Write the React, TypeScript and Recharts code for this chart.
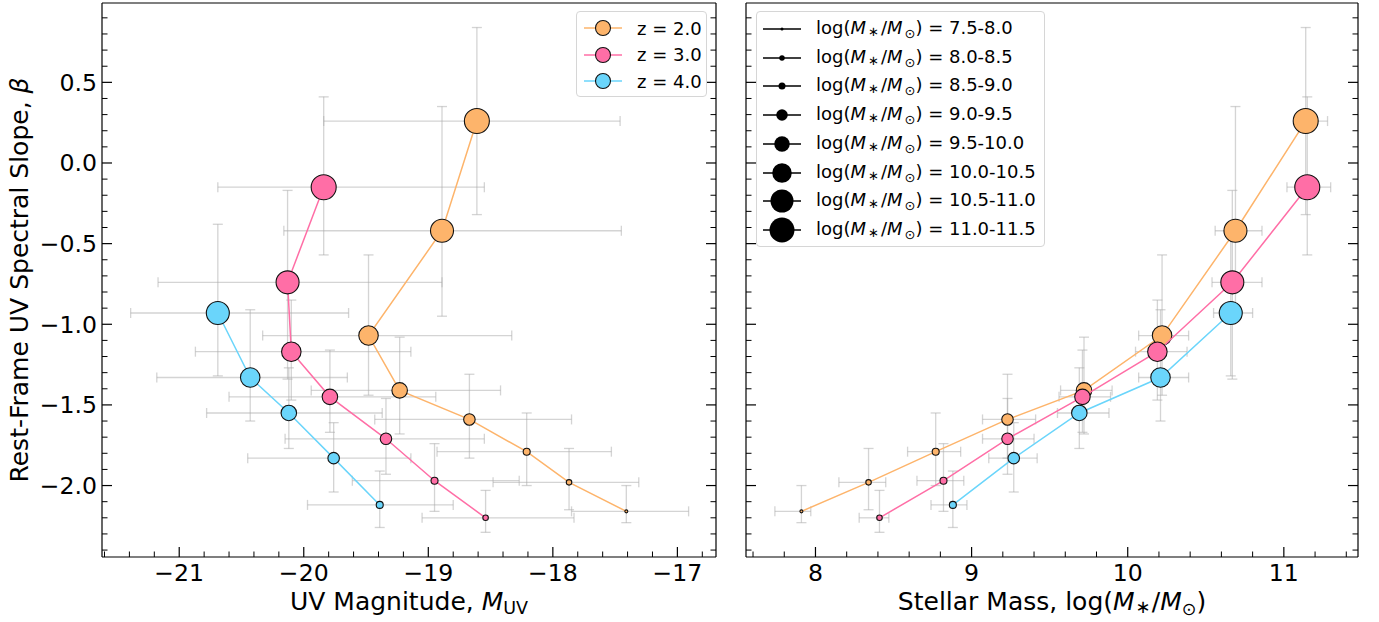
import React from 'react';
import { ScatterChart, Scatter, XAxis, YAxis, ErrorBar, Label, Legend } from 'recharts';

// ---- data ----
const Z_LABELS = ['z = 2.0', 'z = 3.0', 'z = 4.0'];
const MASS_BINS = ['7.5-8.0', '8.0-8.5', '8.5-9.0', '9.0-9.5', '9.5-10.0', '10.0-10.5', '10.5-11.0', '11.0-11.5'];

// z = 2.0
const Z2_BIN = [0, 1, 2, 3, 4, 5, 6, 7];
const Z2_MUV = [-17.41, -17.87, -18.21, -18.67, -19.23, -19.48, -18.89, -18.61];
const Z2_MASS = [7.91, 8.34, 8.77, 9.23, 9.72, 10.22, 10.69, 11.14];
const Z2_BETA = [-2.16, -1.98, -1.79, -1.59, -1.41, -1.07, -0.42, 0.26];
const Z2_MUV_ERR = [[0.44, 0.5], [0.61, 0.56], [0.72, 0.68], [0.76, 0.82], [0.71, 0.81], [0.85, 1.15], [1.27, 1.44], [1.23, 1.15]];
const Z2_MASS_ERR = [[0.17, 0.06], [0.19, 0.11], [0.18, 0.16], [0.16, 0.18], [0.15, 0.18], [0.15, 0.17], [0.13, 0.17], [0.07, 0.14]];
const Z2_BETA_ERR = [[0.07, 0.16], [0.17, 0.21], [0.21, 0.24], [0.24, 0.28], [0.27, 0.33], [0.37, 0.5], [0.53, 0.77], [0.58, 0.58]];

// z = 3.0
const Z3_BIN = [1, 2, 3, 4, 5, 6, 7];
const Z3_MUV = [-18.54, -18.95, -19.34, -19.79, -20.1, -20.13, -19.84];
const Z3_MASS = [8.41, 8.82, 9.23, 9.71, 10.19, 10.67, 11.15];
const Z3_BETA = [-2.2, -1.97, -1.71, -1.45, -1.17, -0.74, -0.15];
const Z3_MUV_ERR = [[0.51, 0.71], [0.66, 0.68], [0.81, 0.79], [0.81, 0.85], [0.77, 0.96], [1.04, 1.24], [0.85, 1.29]];
const Z3_MASS_ERR = [[0.13, 0.06], [0.17, 0.13], [0.16, 0.17], [0.15, 0.18], [0.14, 0.19], [0.13, 0.19], [0.13, 0.15]];
const Z3_BETA_ERR = [[0.09, 0.17], [0.19, 0.23], [0.22, 0.25], [0.22, 0.29], [0.3, 0.32], [0.6, 0.57], [0.42, 0.56]];

// z = 4.0
const Z4_BIN = [2, 3, 4, 5, 6];
const Z4_MUV = [-19.39, -19.76, -20.12, -20.43, -20.69];
const Z4_MASS = [8.88, 9.27, 9.69, 10.21, 10.66];
const Z4_BETA = [-2.12, -1.83, -1.55, -1.33, -0.93];
const Z4_MUV_ERR = [[0.58, 0.59], [0.69, 0.62], [0.66, 0.75], [0.75, 0.78], [0.7, 1.05]];
const Z4_MASS_ERR = [[0.14, 0.09], [0.16, 0.15], [0.14, 0.19], [0.14, 0.18], [0.11, 0.14]];
const Z4_BETA_ERR = [[0.14, 0.21], [0.21, 0.22], [0.22, 0.28], [0.27, 0.42], [0.39, 0.55]];

// ---- axes ----
const MUV_MAJOR = [-21, -20, -19, -18, -17];
const MASS_MAJOR = [8, 9, 10, 11];
const BETA_MAJOR = [-2.0, -1.5, -1.0, -0.5, 0.0, 0.5];
const MUV_DOMAIN = [-21.62, -16.69];
const MASS_DOMAIN = [7.555, 11.475];
const BETA_DOMAIN = [-2.443, 0.992];

const steps = (from: number, to: number, step: number) => {
  const out: number[] = [];
  for (let v = from; v <= to + 1e-9; v += step) out.push(Math.round(v * 1e6) / 1e6);
  return out;
};
const MUV_TICKS = steps(-21.6, -16.8, 0.2);
const MASS_TICKS = steps(7.6, 11.4, 0.2);
const BETA_TICKS = steps(-2.4, 0.9, 0.1);

// ---- styles ----
const FONT = '"DejaVu Sans", sans-serif';
const COLORS = ['#FDB46B', '#FF6EA6', '#6AD5FB'];
const MARKER_R = [1.5, 2.75, 3.5, 5.75, 7.75, 9.75, 11.5, 12.5];
const AXIS_LINE = { stroke: '#000', strokeWidth: 1.2 };
const ERR_STYLE = { stroke: '#aaaaaa', strokeOpacity: 0.5, strokeWidth: 1.3 };
const TICK_FS = 23.6;
const LABEL_FS = 25;

const makeRows = (bin: number[], muv: number[], mass: number[], beta: number[], muvErr: number[][], massErr: number[][], betaErr: number[][]) =>
  bin.map((b, i) => ({ bin: b, muv: muv[i], mass: mass[i], beta: beta[i], muvErr: muvErr[i], massErr: massErr[i], betaErr: betaErr[i] }));

const SERIES = [
  makeRows(Z2_BIN, Z2_MUV, Z2_MASS, Z2_BETA, Z2_MUV_ERR, Z2_MASS_ERR, Z2_BETA_ERR),
  makeRows(Z3_BIN, Z3_MUV, Z3_MASS, Z3_BETA, Z3_MUV_ERR, Z3_MASS_ERR, Z3_BETA_ERR),
  makeRows(Z4_BIN, Z4_MUV, Z4_MASS, Z4_BETA, Z4_MUV_ERR, Z4_MASS_ERR, Z4_BETA_ERR),
];

const isMajor = (v: number, majors: number[]) => majors.some((m) => Math.abs(m - v) < 1e-6);
const fmt = (v: number, digits: number) => {
  const s = Math.abs(v).toFixed(digits);
  return v < -1e-9 ? '\u2212' + s : s;
};

// ticks point inwards, like matplotlib direction='in'
const tickFactory = (side: 'bottom' | 'top' | 'left' | 'right', majors: number[], digits: number, showLabel: boolean) =>
  (p: any) => {
    const { x, y, payload } = p;
    const major = isMajor(payload.value, majors);
    const len = major ? 10 : 5.5;
    const sw = major ? 1.2 : 1;
    let line;
    if (side === 'bottom') line = <line x1={x} x2={x} y1={y} y2={y - len} stroke="#000" strokeWidth={sw} />;
    else if (side === 'top') line = <line x1={x} x2={x} y1={y} y2={y + len} stroke="#000" strokeWidth={sw} />;
    else if (side === 'left') line = <line x1={x} x2={x + len} y1={y} y2={y} stroke="#000" strokeWidth={sw} />;
    else line = <line x1={x} x2={x - len} y1={y} y2={y} stroke="#000" strokeWidth={sw} />;
    let text = null;
    if (major && showLabel) {
      if (side === 'bottom')
        text = <text x={x} y={y + 24} textAnchor="middle" fontSize={TICK_FS} fontFamily={FONT} fill="#000">{fmt(payload.value, digits)}</text>;
      else if (side === 'left')
        text = <text x={x - 5} y={y} dy="0.36em" textAnchor="end" fontSize={TICK_FS} fontFamily={FONT} fill="#000">{fmt(payload.value, digits)}</text>;
    }
    return <g>{line}{text}</g>;
  };

const MuvTitle = (p: any) => {
  const vb = p.viewBox;
  return (
    <text x={vb.x + vb.width / 2} y={vb.y + 53} textAnchor="middle" fontSize={LABEL_FS} fontFamily={FONT} fill="#000">
      UV Magnitude, <tspan fontStyle="italic">M</tspan><tspan fontSize={17.5} dy={4}>UV</tspan>
    </text>
  );
};

const MassTitle = (p: any) => {
  const vb = p.viewBox;
  return (
    <text x={vb.x + vb.width / 2} y={vb.y + 53} textAnchor="middle" fontSize={LABEL_FS} fontFamily={FONT} fill="#000">
      Stellar Mass, log(<tspan fontStyle="italic">M</tspan><tspan fontSize={18} dy={3} dx={1}>{'\u2217'}</tspan>
      <tspan dy={-3} dx={1}>/</tspan><tspan fontStyle="italic">M</tspan>
      <tspan fontSize={17.5} dy={5}>{'\u2299'}</tspan><tspan dy={-5}>)</tspan>
    </text>
  );
};

const BetaTitle = (p: any) => {
  const vb = p.viewBox;
  const cy = vb.y + vb.height / 2;
  return (
    <text x={28} y={cy} transform={`rotate(-90, 28, ${cy})`} textAnchor="middle" fontSize={LABEL_FS} fontFamily={FONT} fill="#000">
      Rest-Frame UV Spectral Slope, <tspan fontStyle="italic">{'\u03B2'}</tspan>
    </text>
  );
};

const makeShape = (color: string) => (p: any) =>
  <circle cx={p.cx} cy={p.cy} r={MARKER_R[p.payload.bin]} fill={color} stroke="#111" strokeWidth={1.1} />;

const ZLegend = () => (
  <div style={{ width: 131, height: 86, boxSizing: 'border-box', border: '1px solid #d6d6d6', borderRadius: 4, background: 'rgba(255,255,255,0.85)', fontFamily: FONT, fontSize: 18, position: 'relative' }}>
    {Z_LABELS.map((lab, i) => (
      <div key={lab} style={{ position: 'absolute', left: 0, top: 3 + i * 26.7, height: 26, display: 'flex', alignItems: 'center' }}>
        <svg width={52} height={26} style={{ display: 'block' }}>
          <line x1={7} x2={45} y1={13} y2={13} stroke={COLORS[i]} strokeWidth={1.5} />
          <circle cx={26} cy={13} r={7.5} fill={COLORS[i]} stroke="#111" strokeWidth={1.1} />
        </svg>
        <span style={{ marginLeft: 8, whiteSpace: 'nowrap' }}>{lab}</span>
      </div>
    ))}
  </div>
);

const MassLegend = () => (
  <div style={{ width: 289, height: 236, boxSizing: 'border-box', border: '1px solid #d6d6d6', borderRadius: 4, background: 'rgba(255,255,255,0.85)', fontFamily: FONT, fontSize: 18, position: 'relative' }}>
    {MASS_BINS.map((lab, i) => (
      <div key={lab} style={{ position: 'absolute', left: 0, top: 3 + i * 28.7, height: 28, display: 'flex', alignItems: 'center' }}>
        <svg width={52} height={28} style={{ display: 'block' }}>
          <line x1={6} x2={44} y1={14} y2={14} stroke="#000" strokeWidth={1.5} />
          <circle cx={25} cy={14} r={MARKER_R[i]} fill="#000" />
        </svg>
        <span style={{ marginLeft: 7, whiteSpace: 'nowrap' }}>
          log(<i>M</i><span style={{ fontSize: 13, margin: '0 2px', position: 'relative', top: 2 }}>{'\u2217'}</span>/<i>M</i>
          <sub style={{ fontSize: 13, marginLeft: 2, verticalAlign: '-4px' }}>{'\u2299'}</sub>) = {lab}
        </span>
      </div>
    ))}
  </div>
);

function Panel({ xKey, xErrKey, domain, ticks, majors, width, left, margin, yWidth, showY, title, legend, legendPos }: any) {
  return (
    <div style={{ position: 'absolute', left, top: 0 }}>
      <ScatterChart width={width} height={622} margin={margin}>
        <XAxis xAxisId="b" type="number" dataKey={xKey} domain={domain} allowDataOverflow ticks={ticks} interval={0}
          height={65} tickSize={0} tickMargin={0} tickLine={false} axisLine={AXIS_LINE}
          tick={tickFactory('bottom', majors, 0, true)}>
          <Label content={title} />
        </XAxis>
        <XAxis xAxisId="t" orientation="top" type="number" domain={domain} allowDataOverflow ticks={ticks} interval={0}
          height={1} tickSize={0} tickMargin={0} tickLine={false} axisLine={AXIS_LINE}
          tick={tickFactory('top', majors, 0, false)} />
        <YAxis yAxisId="l" type="number" dataKey="beta" domain={BETA_DOMAIN} allowDataOverflow ticks={BETA_TICKS} interval={0}
          width={yWidth} tickSize={0} tickMargin={0} tickLine={false} axisLine={AXIS_LINE}
          tick={tickFactory('left', BETA_MAJOR, 1, showY)}>
          {showY && <Label content={BetaTitle} />}
        </YAxis>
        <YAxis yAxisId="r" orientation="right" type="number" domain={BETA_DOMAIN} allowDataOverflow ticks={BETA_TICKS} interval={0}
          width={1} tickSize={0} tickMargin={0} tickLine={false} axisLine={AXIS_LINE}
          tick={tickFactory('right', BETA_MAJOR, 1, false)} />
        {SERIES.map((rows, i) => (
          <Scatter key={`err-${i}`} data={rows} xAxisId="b" yAxisId="l" shape={() => <g />} isAnimationActive={false}>
            <ErrorBar dataKey={xErrKey} direction="x" width={5} {...ERR_STYLE} />
            <ErrorBar dataKey="betaErr" direction="y" width={5} {...ERR_STYLE} />
          </Scatter>
        ))}
        {SERIES.map((rows, i) => (
          <Scatter key={`pts-${i}`} name={Z_LABELS[i]} data={rows} xAxisId="b" yAxisId="l" fill={COLORS[i]}
            line={{ stroke: COLORS[i], strokeWidth: 1.5 }} lineType="joint" shape={makeShape(COLORS[i])} isAnimationActive={false} />
        ))}
        <Legend layout="vertical" align="center" verticalAlign="middle" content={legend}
          wrapperStyle={{ left: legendPos[0], top: legendPos[1], width: 'auto', height: 'auto' }} />
      </ScatterChart>
    </div>
  );
}

export default function App() {
  return (
    <div style={{ position: 'absolute', left: 0, top: 0, width: 1379, height: 622, background: '#fff' }}>
      <Panel xKey="muv" xErrKey="muvErr" domain={MUV_DOMAIN} ticks={MUV_TICKS} majors={MUV_MAJOR}
        width={731} left={0} margin={{ top: 2, right: 14, bottom: 0, left: 0 }} yWidth={102} showY
        title={MuvTitle} legend={ZLegend} legendPos={[576, 11]} />
      <Panel xKey="mass" xErrKey="massErr" domain={MASS_DOMAIN} ticks={MASS_TICKS} majors={MASS_MAJOR}
        width={648} left={731} margin={{ top: 2, right: 20, bottom: 0, left: 0 }} yWidth={15} showY={false}
        title={MassTitle} legend={MassLegend} legendPos={[25, 11]} />
    </div>
  );
}
